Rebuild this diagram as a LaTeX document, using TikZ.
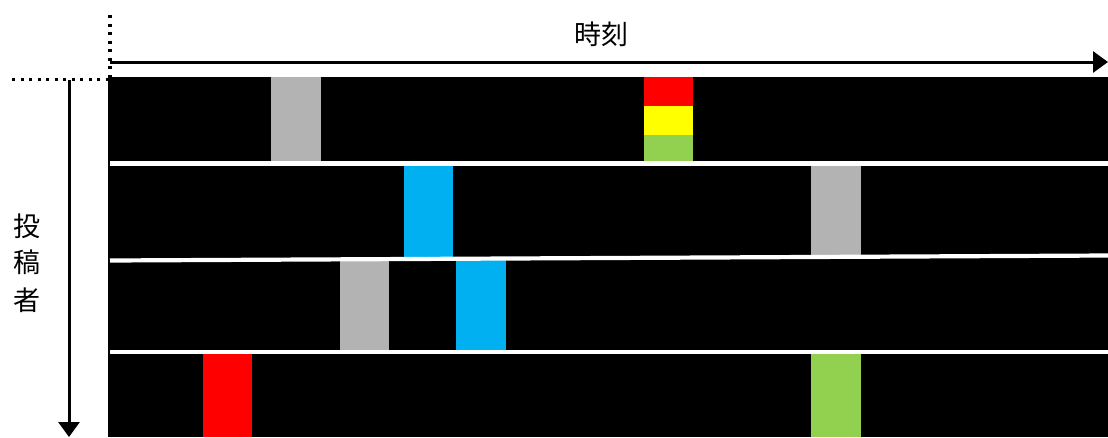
\documentclass[tikz,border=0pt]{standalone}
\usepackage{fontspec}
\newfontfamily\jpfont{Noto Sans CJK JP}
\usetikzlibrary{arrows.meta}
\definecolor{cgray}{HTML}{B3B3B3}
\definecolor{cblue}{HTML}{00B0F0}
\definecolor{cred}{HTML}{FF0000}
\definecolor{cyellow}{HTML}{FFFF00}
\definecolor{cgreen}{HTML}{92D050}
\tikzset{
  axis/.style={line width=3pt,-{Triangle[length=15pt,width=21pt]}},
  dotline/.style={line width=3.3pt,dash pattern=on 3.3pt off 5.2pt},
  sep/.style={white,line width=4.2pt},
  blk/.style={inner sep=0pt,outer sep=0pt},
  lbl/.style={font=\jpfont\fontsize{27pt}{32pt}\selectfont,inner sep=0pt}
}
\begin{document}
\begin{tikzpicture}[x=1pt,y=-1pt]
\useasboundingbox (0,0) rectangle (1108,437);
% black field
\fill[black] (108,77) rectangle (1108,437);
% blocks
\fill[cgray] (271,77) rectangle (321,163);
\fill[cred] (644,77) rectangle (693,106);
\fill[cyellow] (644,106) rectangle (693,135);
\fill[cgreen] (644,135) rectangle (693,163);
\fill[cblue] (404,163) rectangle (453,260);
\fill[cgray] (811,163) rectangle (861,258);
\fill[cgray] (340,260) rectangle (389,352);
\fill[cblue] (456,260) rectangle (506,352);
\fill[cred] (203,352) rectangle (252,437);
\fill[cgreen] (811,352) rectangle (861,437);
% separators
\coordinate (s1a) at (110,163.5); \coordinate (s1b) at (1108,163.5);
\coordinate (s2a) at (110,260.5); \coordinate (s2b) at (1108,255.5);
\coordinate (s3a) at (110,352.2); \coordinate (s3b) at (1108,352.2);
\draw[sep] (s1a) -- (s1b);
\draw[sep] (s2a) -- (s2b);
\draw[sep] (s3a) -- (s3b);
% axes
\coordinate (o) at (110,62);
\coordinate (xe) at (1108,62);
\coordinate (vo) at (69,80);
\coordinate (ye) at (69,437);
\draw[axis] (o) -- (xe);
\draw[axis] (vo) -- (ye);
\coordinate (d1a) at (110,15); \coordinate (d1b) at (110,78);
\coordinate (d2a) at (12,79.5); \coordinate (d2b) at (108,79.5);
\draw[dotline] (d1a) -- (d1b);
\draw[dotline] (d2a) -- (d2b);
% labels
\node[lbl] (t) at (601,34) {時刻};
\node[lbl] (p1) at (27,226) {投};
\node[lbl] (p2) at (27,262) {稿};
\node[lbl] (p3) at (27,300) {者};
\end{tikzpicture}
\end{document}
